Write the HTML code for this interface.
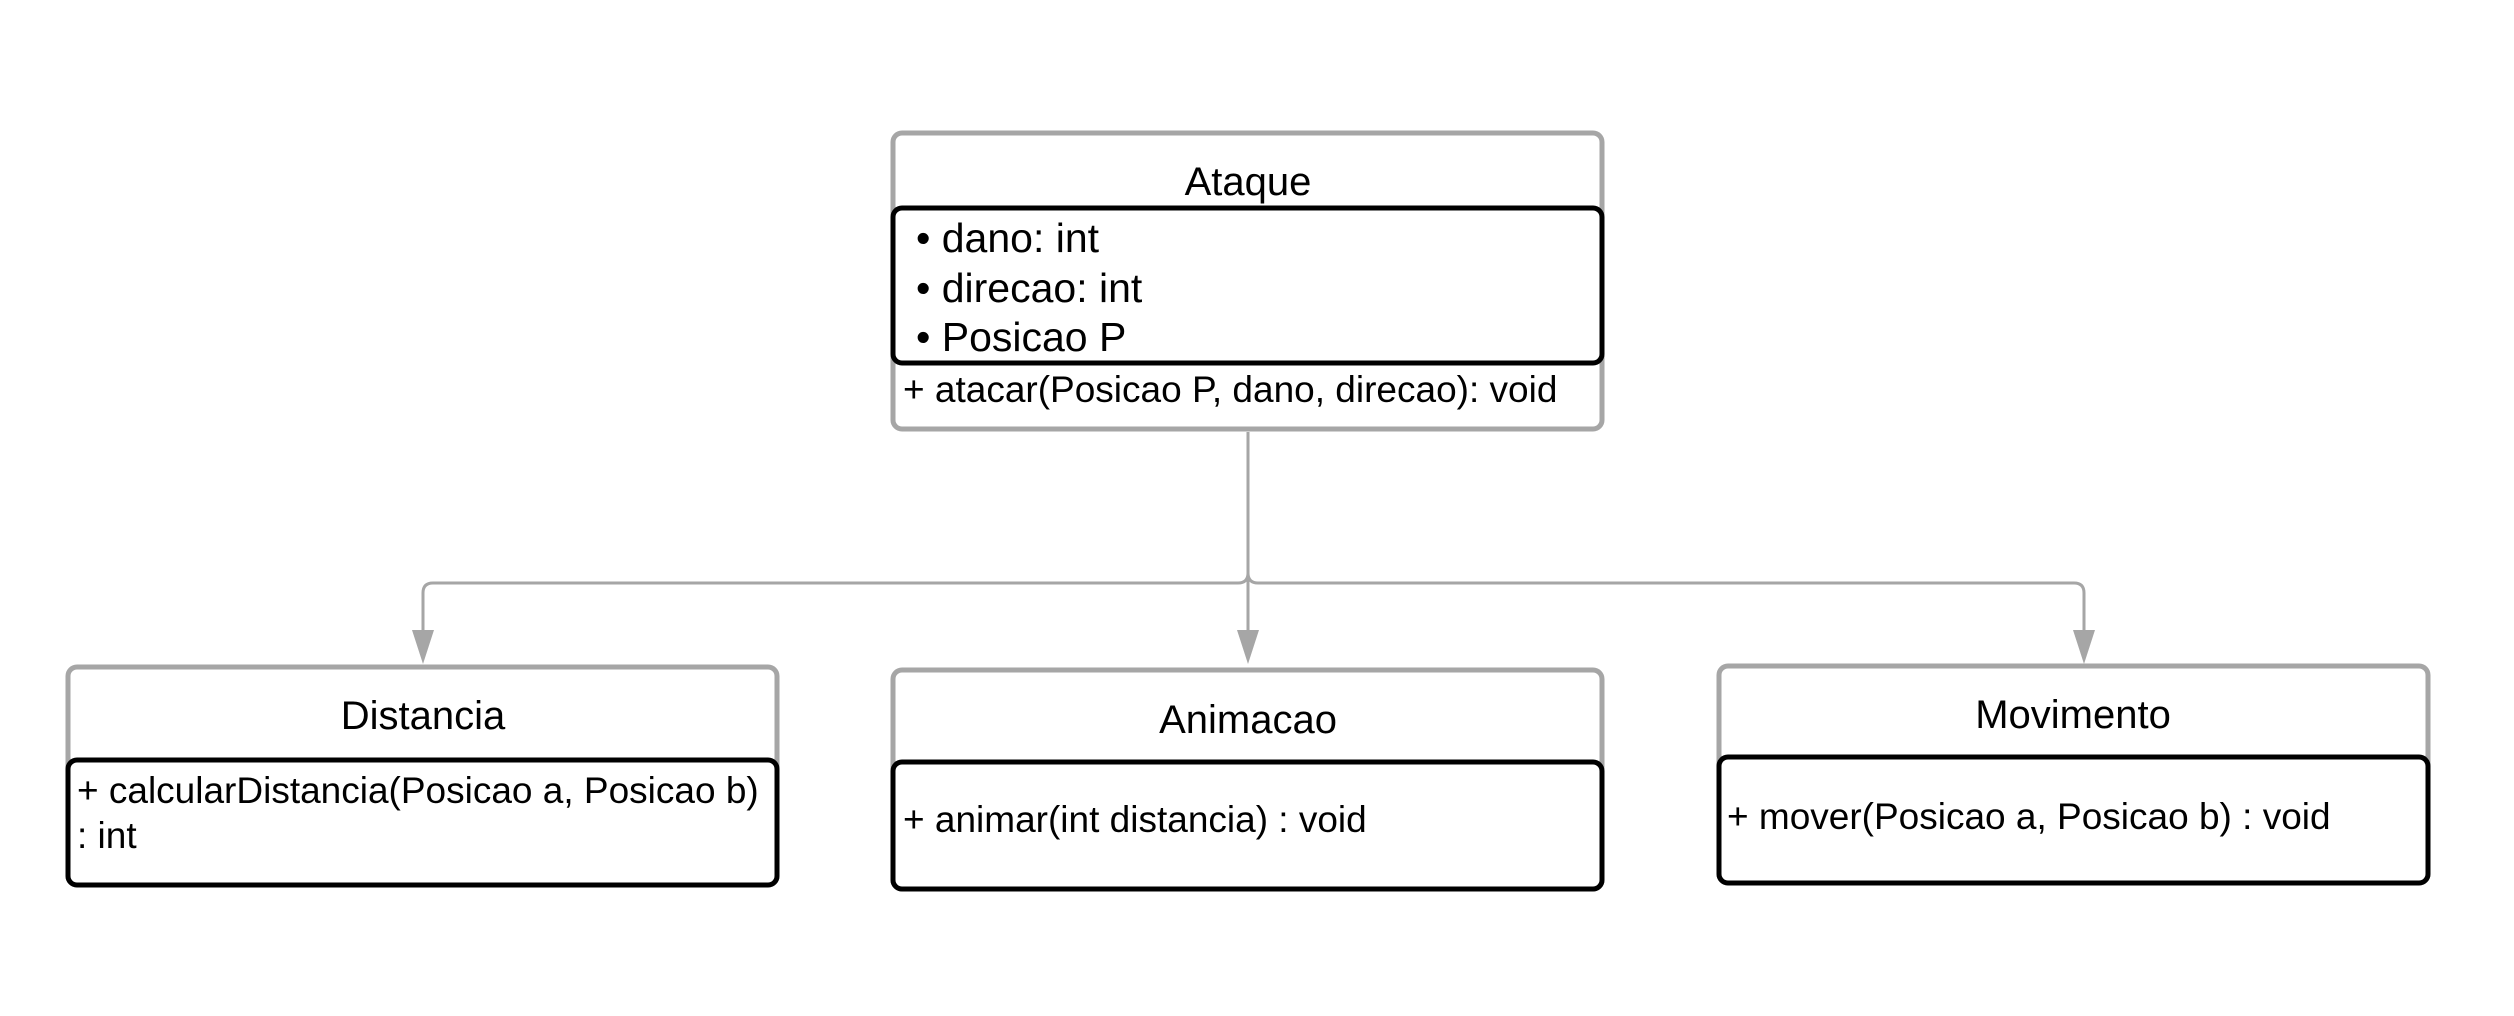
<!DOCTYPE html>
<html><head><style>
html,body{margin:0;padding:0;background:#fff;}
svg{display:block;}
text{font-family:"Liberation Sans",Arial,sans-serif;fill:#000;}
</style></head><body>
<svg width="2514" height="1016" viewBox="0 0 2514 1016" xmlns="http://www.w3.org/2000/svg">
<rect width="2514" height="1016" fill="#fff"/>
<g fill="none" stroke="#a6a6a6" stroke-width="3">
<path d="M1248 432 V573 Q1248 583 1238 583 H433 Q423 583 423 593 V632"/>
<path d="M1248 573 Q1248 583 1258 583 H2074 Q2084 583 2084 593 V632"/>
<path d="M1248 573 V632"/>
</g>
<g fill="#a6a6a6">
<polygon points="412,630 434,630 423,664"/>
<polygon points="1237,630 1259,630 1248,664"/>
<polygon points="2073,630 2095,630 2084,664"/>
</g>
<rect x="893" y="133" width="709" height="296" rx="9" fill="#fff" stroke="#a6a6a6" stroke-width="5"/>
<rect x="893" y="208" width="709" height="155" rx="9" fill="#fff" stroke="#000" stroke-width="5"/>
<text x="1248" y="195" font-size="40" text-anchor="middle">Ataque</text>
<text font-size="41"><tspan x="916" y="252">• dano: int</tspan><tspan x="916" y="302">• direcao: int</tspan><tspan x="916" y="351">• Posicao P</tspan></text>
<text x="903" y="402" font-size="37">+ atacar(Posicao P, dano, direcao): void</text>
<rect x="68" y="667" width="709" height="218" rx="9" fill="#fff" stroke="#a6a6a6" stroke-width="5"/>
<rect x="68" y="760" width="709" height="125" rx="9" fill="#fff" stroke="#000" stroke-width="5"/>
<text x="423" y="729" font-size="40" text-anchor="middle">Distancia</text>
<text x="77" y="803" font-size="37">+ calcularDistancia(Posicao a, Posicao b)</text>
<text x="77" y="848" font-size="37">: int</text>
<rect x="893" y="670" width="709" height="219" rx="9" fill="#fff" stroke="#a6a6a6" stroke-width="5"/>
<rect x="893" y="762" width="709" height="127" rx="9" fill="#fff" stroke="#000" stroke-width="5"/>
<text x="1248" y="733" font-size="40" text-anchor="middle">Animacao</text>
<text x="903" y="832" font-size="37">+ animar(int distancia) : void</text>
<rect x="1719" y="666" width="709" height="217" rx="9" fill="#fff" stroke="#a6a6a6" stroke-width="5"/>
<rect x="1719" y="757" width="709" height="126" rx="9" fill="#fff" stroke="#000" stroke-width="5"/>
<text x="2073" y="728" font-size="40" text-anchor="middle">Movimento</text>
<text x="1727" y="829" font-size="37">+ mover(Posicao a, Posicao b) : void</text>
</svg>
</body></html>
